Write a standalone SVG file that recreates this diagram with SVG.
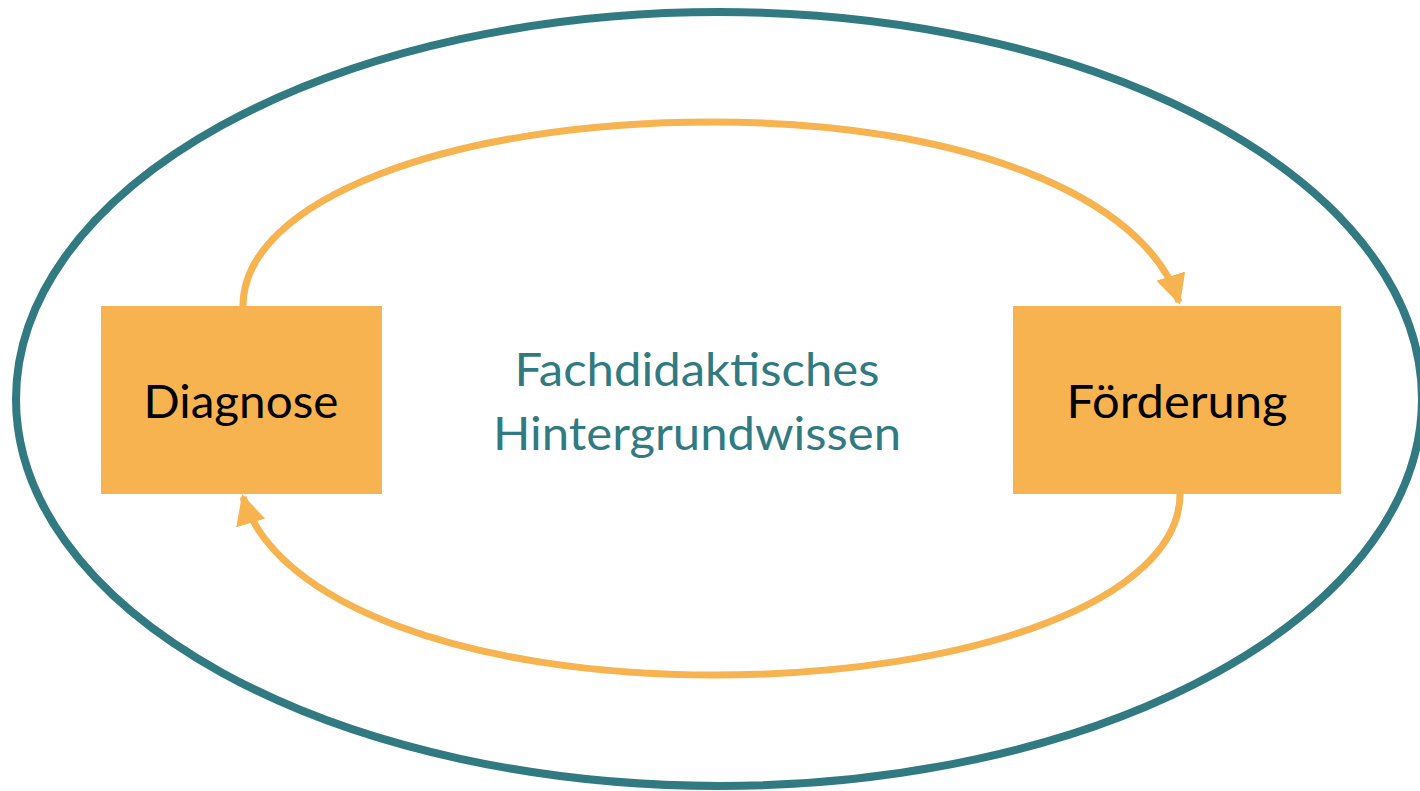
<svg xmlns="http://www.w3.org/2000/svg" width="1420" height="791" viewBox="0 0 1420 791">
<style>
.box{fill:#F6B350}
.lbl{font-family:Lato,"Open Sans",sans-serif;font-size:46px;fill:#000;text-anchor:middle}
.mid{font-family:Lato,"Open Sans",sans-serif;font-size:46px;fill:#327A82;text-anchor:middle}
.arc{fill:none;stroke:#F6B350;stroke-width:7}
</style>
<defs>
<marker id="ah" viewBox="0 0 10 10" refX="9" refY="5" markerWidth="4.3" markerHeight="4.6" markerUnits="strokeWidth" orient="auto">
<path d="M0,0 L10,5 L0,10 z" fill="#F6B350"/>
</marker>
</defs>
<g id="outer">
<ellipse cx="719" cy="399" rx="703" ry="387" fill="none" stroke="#327A82" stroke-width="8"/>
</g>
<g id="connectors">
<path class="arc" d="M243,306 C243,200 450,122 712,122 C960,122 1145,195 1179,302" marker-end="url(#ah)"/>
<path class="arc" d="M1180,494 C1180,600 970,675 715,675 C470,675 275,605 243,497" marker-end="url(#ah)"/>
</g>
<g id="diagnose">
<rect class="box" x="101" y="306" width="281" height="188"/>
<text class="lbl" x="241" y="418" textLength="195" lengthAdjust="spacingAndGlyphs">Diagnose</text>
</g>
<g id="foerderung">
<rect class="box" x="1013" y="306" width="328" height="188"/>
<text class="lbl" x="1177" y="418" textLength="221" lengthAdjust="spacingAndGlyphs">Förderung</text>
</g>
<g id="center">
<text class="mid" x="697" y="386" textLength="365" lengthAdjust="spacingAndGlyphs">Fachdidaktisches</text>
<text class="mid" x="697" y="450" textLength="408" lengthAdjust="spacingAndGlyphs">Hintergrundwissen</text>
</g>
</svg>
